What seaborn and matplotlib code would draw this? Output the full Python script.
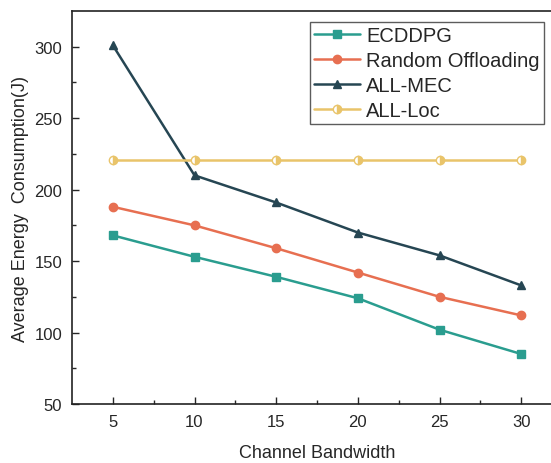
"""Average energy consumption vs channel bandwidth for four offloading strategies."""
import seaborn as sns
from matplotlib import pyplot as plt
import pandas as pd

bandwidth = [5, 10, 15, 20, 25, 30]
ecddpg = [168, 153, 139, 124, 102, 85]
random_off = [188, 175, 159, 142, 125, 112]
all_mec = [301, 210, 191, 170, 154, 133]
all_loc = [221, 221, 221, 221, 221, 221]

names = ['ECDDPG', 'Random Offloading', 'ALL-MEC', 'ALL-Loc']
colors = ['#2a9d8f', '#e76f51', '#264653', '#e9c46a']
markers = ['s', 'o', '^', 'o']

df = pd.DataFrame({'bw': bandwidth, 'ECDDPG': ecddpg,
                   'Random Offloading': random_off,
                   'ALL-MEC': all_mec, 'ALL-Loc': all_loc})
long = df.melt(id_vars='bw', var_name='method', value_name='energy')

sns.set_style('ticks')
plt.rcParams['font.family'] = ['Liberation Sans', 'DejaVu Sans']

fig = plt.figure(figsize=(5.51, 4.64), dpi=100)
ax = fig.add_axes([72 / 551, 59 / 464, 490 / 551, 393 / 464])

for name, c, m in zip(names, colors, markers):
    sub = long[long['method'] == name]
    kw = {}
    if name == 'ALL-Loc':
        kw = dict(fillstyle='right', markerfacecoloralt='white')
    sns.lineplot(x='bw', y='energy', data=sub, ax=ax, color=c, marker=m,
                 markersize=6, markeredgewidth=1, markeredgecolor=c,
                 linewidth=1.8, label=name, **kw)

ax.set_xlim(2.5, 32.5)
ax.set_ylim(50, 325)
ax.set_xticks(bandwidth)
ax.set_xticks([7.5, 12.5, 17.5, 22.5, 27.5], minor=True)
ax.set_yticks([50, 100, 150, 200, 250, 300])
ax.set_yticks([75, 125, 175, 225, 275], minor=True)
ax.tick_params(direction='in', which='major', length=5, width=1,
               labelsize=12, pad=7)
ax.tick_params(direction='in', which='minor', length=3, width=1)
for s in ax.spines.values():
    s.set_linewidth(1.2)
    s.set_color('#222222')
ax.set_xlabel('Channel Bandwidth', fontsize=13, labelpad=11)
ax.set_ylabel('Average Energy  Consumption(J)', fontsize=13, labelpad=4)

leg = ax.legend(loc='upper left', bbox_to_anchor=(238 / 490, 0.972),
                fontsize=14.5, frameon=True, fancybox=False, handlelength=2.3,
                borderpad=0.2, labelspacing=0.3, handletextpad=0.3,
                borderaxespad=0)
leg.get_frame().set_edgecolor('#333333')
leg.get_frame().set_linewidth(1)

plt.savefig('out.png', dpi=100)
